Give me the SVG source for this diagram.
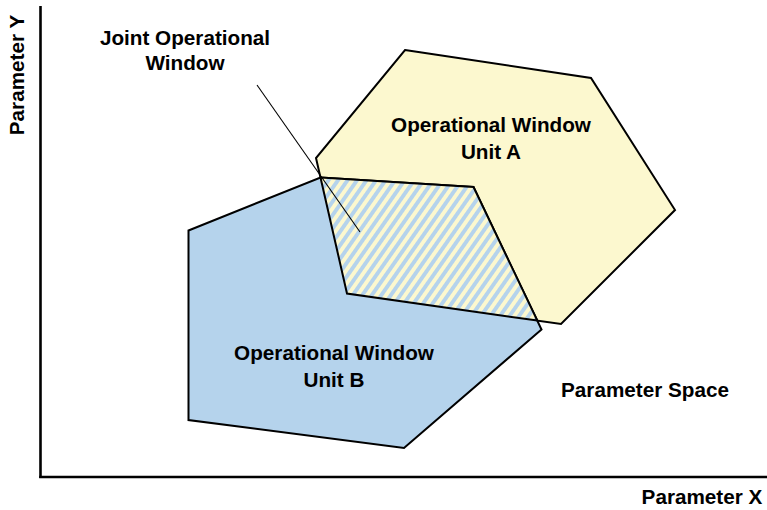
<svg xmlns="http://www.w3.org/2000/svg" width="767" height="510" viewBox="0 0 767 510">
  <style>
    .lbl { font-family: "Liberation Sans", Arial, sans-serif; font-weight: bold; font-size: 20.7px; fill: #000; text-anchor: middle; }
    .win { stroke: #000; stroke-width: 2; stroke-linejoin: miter; }
    .axis { stroke: #000; stroke-width: 2.6; fill: none; }
  </style>
  <defs>
    <pattern id="hatch" patternUnits="userSpaceOnUse" width="7.8" height="7.8" patternTransform="rotate(35)">
      <rect x="0" y="0" width="7.8" height="7.8" fill="#B5D3EC" shape-rendering="crispEdges"/>
      <rect x="0" y="0" width="3.8" height="7.8" fill="#FCF8CF" shape-rendering="crispEdges"/>
    </pattern>
  </defs>

  <g id="axes">
    <line class="axis" x1="40.5" y1="6" x2="40.5" y2="478"/>
    <line class="axis" x1="39.2" y1="477" x2="767" y2="477"/>
    <text class="lbl" transform="translate(24,75) rotate(-90)">Parameter Y</text>
    <text class="lbl" x="702" y="504">Parameter X</text>
  </g>

  <g id="unit-a">
    <polygon class="win" fill="#FCF8CF" points="405,50 591,78 675,210 561,324 347,293.5 316,158"/>
    <text class="lbl" x="491" y="132">Operational Window</text>
    <text class="lbl" x="491" y="159">Unit A</text>
  </g>

  <g id="unit-b">
    <polygon class="win" fill="#B5D3EC" points="188.5,230.5 320.5,177.5 473.5,187 541.5,329.5 404,448 188.5,420"/>
  </g>

  <g id="joint-window">
    <polygon class="win" fill="url(#hatch)" points="320.5,177.5 473.5,187 537.3,320.6 347,293.5"/>
    <text class="lbl" x="185" y="45">Joint Operational</text>
    <text class="lbl" x="185" y="70">Window</text>
  </g>

  <g id="unit-b-label">
    <text class="lbl" x="334" y="360">Operational Window</text>
    <text class="lbl" x="334" y="387">Unit B</text>
  </g>

  <g id="parameter-space">
    <text class="lbl" x="645" y="397">Parameter Space</text>
  </g>

  <g id="connectors">
    <line x1="257" y1="85" x2="360" y2="232" stroke="#000" stroke-width="1.1"/>
  </g>
</svg>
